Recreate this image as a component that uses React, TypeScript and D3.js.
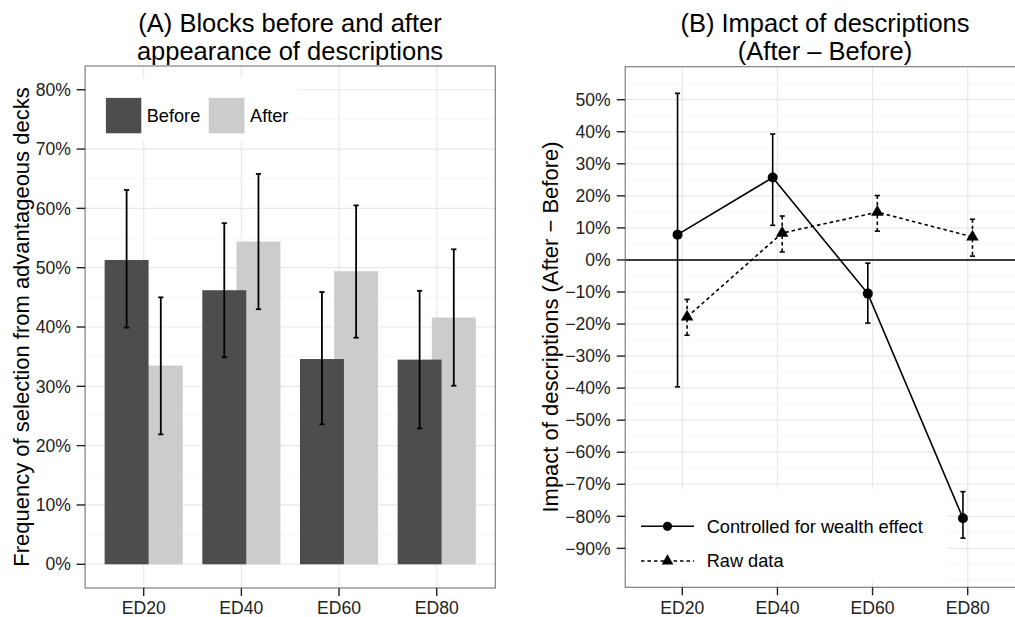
import React from "react";
import * as d3 from "d3";

const categories = ["ED20", "ED40", "ED60", "ED80"];

// Panel A: frequency of selection from advantageous decks
const beforeValues = [0.513, 0.462, 0.346, 0.345];
const beforeLow = [0.399, 0.349, 0.236, 0.229];
const beforeHigh = [0.631, 0.575, 0.459, 0.461];
const afterValues = [0.335, 0.544, 0.494, 0.416];
const afterLow = [0.219, 0.43, 0.382, 0.301];
const afterHigh = [0.45, 0.658, 0.605, 0.531];
const leftTicks = [0, 0.1, 0.2, 0.3, 0.4, 0.5, 0.6, 0.7, 0.8];
const leftMinor = [0.05, 0.15, 0.25, 0.35, 0.45, 0.55, 0.65, 0.75];

// Panel B: impact of descriptions (After - Before)
const controlledValues = [0.079, 0.257, -0.105, -0.806];
const controlledLow = [-0.396, 0.108, -0.197, -0.868];
const controlledHigh = [0.52, 0.393, -0.01, -0.723];
const rawValues = [-0.178, 0.084, 0.149, 0.072];
const rawLow = [-0.235, 0.025, 0.09, 0.012];
const rawHigh = [-0.123, 0.137, 0.201, 0.127];
const rightTicks = [-0.9, -0.8, -0.7, -0.6, -0.5, -0.4, -0.3, -0.2, -0.1, 0, 0.1, 0.2, 0.3, 0.4, 0.5];
const rightMinor = [-1.0, -0.95, -0.85, -0.75, -0.65, -0.55, -0.45, -0.35, -0.25, -0.15, -0.05, 0.05, 0.15, 0.25, 0.35, 0.45, 0.55];

const FONT = "'Liberation Sans', Arial, Helvetica, sans-serif";
const BEFORE_COLOR = "#4d4d4d";
const AFTER_COLOR = "#cccccc";
const GRID = "#e8e8e8";
const GRID_MINOR = "#f6f6f6";
const BORDER = "#7f7f7f";
const TICK_FS = 17.6;
const LEGEND_FS = 18.2;

const pct = (v: number) => {
  const n = Math.round(v * 100);
  return (n < 0 ? "\u2212" + Math.abs(n) : String(n)) + "%";
};

export default function App() {
  // ---- Left panel scales
  const xL = d3.scalePoint<string>().domain(categories).range([143.7, 436.7]);
  const stepL = xL.step();
  const L = { left: xL(categories[0])! - 0.6 * stepL, right: xL(categories[3])! + 0.6 * stepL, top: 66, bottom: 588 };
  const yL = d3.scaleLinear().domain([-0.04, 0.84]).range([L.bottom, L.top]);

  // ---- Right panel scales
  const xR = d3.scalePoint<string>().domain(categories).range([682.3, 967.7]);
  const stepR = xR.step();
  const R = { left: xR(categories[0])! - 0.6 * stepR, right: xR(categories[3])! + 0.6 * stepR, top: 66.7, bottom: 587.3 };
  const yR = d3.scaleLinear().domain([-1.0215, 0.603]).range([R.bottom, R.top]);

  const dodgeBar = 0.175;
  const barW = 0.45;
  const dodgePt = 0.05;

  const lineGen = d3
    .line<[number, number]>()
    .x((d) => d[0])
    .y((d) => d[1]);

  const triangle = d3.symbol().type(d3.symbolTriangle).size(68)();
  const triangleLegend = d3.symbol().type(d3.symbolTriangle).size(60)();

  const cap = 2.6;

  const errorBar = (x: number, y1: number, y2: number, key: string, w: number, dash?: string) => (
    <g key={key} stroke="#000" strokeWidth={w} fill="none">
      <line x1={x} x2={x} y1={y1} y2={y2} strokeDasharray={dash} />
      <line x1={x - cap} x2={x + cap} y1={y1} y2={y1} />
      <line x1={x - cap} x2={x + cap} y1={y2} y2={y2} />
    </g>
  );

  const controlledPts: [number, number][] = categories.map((c, i) => [xR(c)! - dodgePt * stepR, yR(controlledValues[i])]);
  const rawPts: [number, number][] = categories.map((c, i) => [xR(c)! + dodgePt * stepR, yR(rawValues[i])]);

  return (
    <svg
      width={1015}
      height={617}
      style={{ position: "absolute", left: 0, top: 0, background: "#fff" }}
      fontFamily={FONT}
    >
      <rect x={0} y={0} width={1015} height={617} fill="#fff" />

      {/* ================= LEFT PANEL ================= */}
      <text x={290} y={31.5} textAnchor="middle" fontSize={25.5} fill="#000">
        (A) Blocks before and after
      </text>
      <text x={290} y={60} textAnchor="middle" fontSize={25.5} fill="#000">
        appearance of descriptions
      </text>

      {/* grid */}
      {leftMinor.map((v) => (
        <line key={"lm" + v} x1={L.left} x2={L.right} y1={yL(v)} y2={yL(v)} stroke={GRID_MINOR} strokeWidth={1} />
      ))}
      {leftTicks.map((v) => (
        <line key={"lg" + v} x1={L.left} x2={L.right} y1={yL(v)} y2={yL(v)} stroke={GRID} strokeWidth={1.2} />
      ))}
      {categories.map((c) => (
        <line key={"lv" + c} x1={xL(c)} x2={xL(c)} y1={L.top} y2={L.bottom} stroke={GRID} strokeWidth={1.2} />
      ))}

      {/* bars: after first, before on top */}
      {categories.map((c, i) => {
        const cx = xL(c)! + dodgeBar * stepL;
        return (
          <rect
            key={"ab" + c}
            x={cx - (barW / 2) * stepL}
            width={barW * stepL}
            y={yL(afterValues[i])}
            height={yL(0) - yL(afterValues[i])}
            fill={AFTER_COLOR}
          />
        );
      })}
      {categories.map((c, i) => {
        const cx = xL(c)! - dodgeBar * stepL;
        return (
          <rect
            key={"bb" + c}
            x={cx - (barW / 2) * stepL}
            width={barW * stepL}
            y={yL(beforeValues[i])}
            height={yL(0) - yL(beforeValues[i])}
            fill={BEFORE_COLOR}
          />
        );
      })}
      {categories.map((c, i) =>
        errorBar(xL(c)! - dodgeBar * stepL, yL(beforeHigh[i]), yL(beforeLow[i]), "be" + c, 1.8)
      )}
      {categories.map((c, i) =>
        errorBar(xL(c)! + dodgeBar * stepL, yL(afterHigh[i]), yL(afterLow[i]), "ae" + c, 1.8)
      )}

      {/* legend A */}
      <rect x={88} y={78} width={210} height={63} fill="#fff" />
      <rect x={105.7} y={97.7} width={36} height={36} fill={BEFORE_COLOR} stroke="#fff" strokeWidth={0.6} />
      <text x={146.7} y={121.7} fontSize={LEGEND_FS} fill="#000">
        Before
      </text>
      <rect x={208.3} y={97.7} width={36.5} height={36} fill={AFTER_COLOR} stroke="#fff" strokeWidth={0.6} />
      <text x={250} y={121.7} fontSize={LEGEND_FS} fill="#000">
        After
      </text>

      {/* border */}
      <rect x={L.left} y={L.top} width={L.right - L.left} height={L.bottom - L.top} fill="none" stroke={BORDER} strokeWidth={1.2} />

      {/* y axis */}
      {leftTicks.map((v) => (
        <g key={"lt" + v}>
          <line x1={L.left - 8.5} x2={L.left} y1={yL(v)} y2={yL(v)} stroke="#222" strokeWidth={1.4} />
          <text x={71} y={yL(v) + 6.2} textAnchor="end" fontSize={TICK_FS} fill="#222">
            {pct(v)}
          </text>
        </g>
      ))}
      {categories.map((c) => (
        <g key={"lx" + c}>
          <line x1={xL(c)} x2={xL(c)} y1={L.bottom} y2={L.bottom + 8} stroke="#222" strokeWidth={1.4} />
          <text x={xL(c)} y={613.5} textAnchor="middle" fontSize={TICK_FS} fill="#222">
            {c}
          </text>
        </g>
      ))}
      <text
        transform={`translate(29,${(L.top + L.bottom) / 2}) rotate(-90)`}
        textAnchor="middle"
        fontSize={22}
        fill="#000"
      >
        Frequency of selection from advantageous decks
      </text>

      {/* ================= RIGHT PANEL ================= */}
      <text x={825} y={31.5} textAnchor="middle" fontSize={25.5} fill="#000">
        (B) Impact of descriptions
      </text>
      <text x={825} y={60} textAnchor="middle" fontSize={25.5} fill="#000">
        (After {"\u2013"} Before)
      </text>

      {rightMinor.map((v) => (
        <line key={"rm" + v} x1={R.left} x2={R.right} y1={yR(v)} y2={yR(v)} stroke={GRID_MINOR} strokeWidth={1} />
      ))}
      {rightTicks.map((v) => (
        <line key={"rg" + v} x1={R.left} x2={R.right} y1={yR(v)} y2={yR(v)} stroke={GRID} strokeWidth={1.2} />
      ))}
      {categories.map((c) => (
        <line key={"rv" + c} x1={xR(c)} x2={xR(c)} y1={R.top} y2={R.bottom} stroke={GRID} strokeWidth={1.2} />
      ))}

      {/* zero line */}
      <line x1={R.left} x2={R.right} y1={yR(0)} y2={yR(0)} stroke="#000" strokeWidth={1.6} />

      {/* error bars */}
      {categories.map((c, i) =>
        errorBar(xR(c)! - dodgePt * stepR, yR(controlledHigh[i]), yR(controlledLow[i]), "ce" + c, 1.6)
      )}
      {categories.map((c, i) =>
        errorBar(xR(c)! + dodgePt * stepR, yR(rawHigh[i]), yR(rawLow[i]), "re" + c, 1.6, "3.5,3")
      )}

      {/* lines */}
      <path d={lineGen(controlledPts)!} fill="none" stroke="#000" strokeWidth={1.6} />
      <path d={lineGen(rawPts)!} fill="none" stroke="#000" strokeWidth={1.6} strokeDasharray="3.5,3" />

      {controlledPts.map((p, i) => (
        <circle key={"cp" + i} cx={p[0]} cy={p[1]} r={5} fill="#000" />
      ))}
      {rawPts.map((p, i) => (
        <path key={"rp" + i} d={triangle!} transform={`translate(${p[0]},${p[1]})`} fill="#000" />
      ))}

      {/* legend B */}
      <rect x={628} y={489} width={320} height={93} fill="#fff" />
      <line x1={641} x2={694} y1={526.3} y2={526.3} stroke="#000" strokeWidth={1.6} />
      <circle cx={667.5} cy={526.3} r={4.6} fill="#000" />
      <text x={706.7} y={532.5} fontSize={LEGEND_FS} fill="#000">
        Controlled for wealth effect
      </text>
      <line x1={641} x2={694} y1={561} y2={561} stroke="#000" strokeWidth={1.6} strokeDasharray="3.5,3" />
      <path d={triangleLegend!} transform="translate(667.5,561)" fill="#000" />
      <text x={706.7} y={567.2} fontSize={LEGEND_FS} fill="#000">
        Raw data
      </text>

      <rect x={R.left} y={R.top} width={R.right - R.left} height={R.bottom - R.top} fill="none" stroke={BORDER} strokeWidth={1.2} />

      {rightTicks.map((v) => (
        <g key={"rt" + v}>
          <line x1={R.left - 8.5} x2={R.left} y1={yR(v)} y2={yR(v)} stroke="#222" strokeWidth={1.4} />
          <text x={610.7} y={yR(v) + 6.2} textAnchor="end" fontSize={TICK_FS} fill="#222">
            {pct(v)}
          </text>
        </g>
      ))}
      {categories.map((c) => (
        <g key={"rx" + c}>
          <line x1={xR(c)} x2={xR(c)} y1={R.bottom} y2={R.bottom + 8} stroke="#222" strokeWidth={1.4} />
          <text x={xR(c)} y={613.5} textAnchor="middle" fontSize={TICK_FS} fill="#222">
            {c}
          </text>
        </g>
      ))}
      <text
        transform={`translate(557.5,${(R.top + R.bottom) / 2}) rotate(-90)`}
        textAnchor="middle"
        fontSize={22}
        fill="#000"
      >
        Impact of descriptions (After {"\u2212"} Before)
      </text>
    </svg>
  );
}
